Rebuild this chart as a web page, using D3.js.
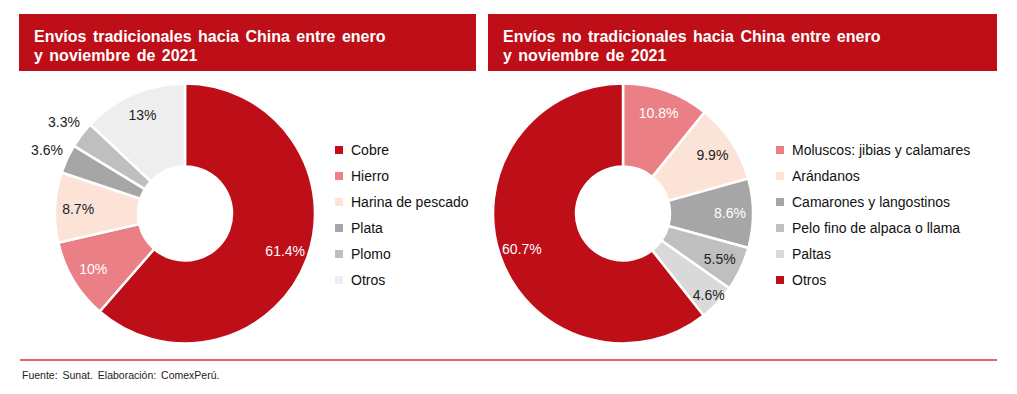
<!DOCTYPE html>
<html lang="es">
<head>
<meta charset="UTF-8">
<title>Envíos hacia China</title>
<style>
    body { margin: 0; background: #fff; font-family: "Liberation Sans", Arial, sans-serif; }
    svg text { font-family: "Liberation Sans", Arial, sans-serif; }
</style>
</head>
<body>
<svg id="chart" width="1017" height="394"></svg>
<script src="https://d3js.org/d3.v7.min.js"></script>
<script>
// Envíos tradicionales
const tradCategories = ["Cobre", "Hierro", "Harina de pescado", "Plata", "Plomo", "Otros"];
const tradValues = [61.4, 10, 8.7, 3.6, 3.3, 13];
const tradColors = ["#BE0E18", "#EA8085", "#FBE4D7", "#A6A6A6", "#BFBFBF", "#EFEEEF"];
const tradLabelColors = ["#fff", "#fff", "#222", "#222", "#222", "#222"];

// Envíos no tradicionales
const noTradCategories = ["Moluscos: jibias y calamares", "Arándanos", "Camarones y langostinos",
    "Pelo fino de alpaca o llama", "Paltas", "Otros"];
const noTradValues = [10.8, 9.9, 8.6, 5.5, 4.6, 60.7];
const noTradColors = ["#EA8085", "#FBE4D7", "#A6A6A6", "#BFBFBF", "#D9D9D9", "#BE0E18"];
const noTradLabelColors = ["#fff", "#222", "#fff", "#222", "#222", "#fff"];

const titles = [
    ["Envíos tradicionales hacia China entre enero", "y noviembre de 2021"],
    ["Envíos no tradicionales hacia China entre enero", "y noviembre de 2021"]
];

const svg = d3.select("#chart");

function drawPanel(opts) {
    const g = svg.append("g");

    // title bar
    g.append("rect")
        .attr("x", opts.barX).attr("y", 14)
        .attr("width", opts.barW).attr("height", 57)
        .attr("fill", "#BE0E18");
    opts.title.forEach((line, i) => {
        g.append("text")
            .attr("x", opts.barX + 15)
            .attr("y", 42 + i * 19)
            .attr("fill", "#fff")
            .attr("font-size", 16)
            .attr("font-weight", "bold")
            .attr("word-spacing", 2)
            .text(line);
    });

    const rOuter = 130, rInner = 47;
    const pie = d3.pie().sort(null).value(d => d.value);
    const arcs = pie(opts.cats.map((c, i) => ({ name: c, value: opts.values[i], i: i })));
    const arc = d3.arc().innerRadius(rInner).outerRadius(rOuter);

    const donut = g.append("g").attr("transform", `translate(${opts.cx},213.5)`);
    donut.selectAll("path")
        .data(arcs)
        .enter()
        .append("path")
        .attr("d", arc)
        .attr("fill", d => opts.colors[d.data.i])
        .attr("stroke", "#fff")
        .attr("stroke-width", 2.5);

    // labels: small slices pushed out
    donut.selectAll("text.lbl")
        .data(arcs)
        .enter()
        .append("text")
        .attr("class", "lbl")
        .attr("transform", d => {
            let r = 107;
            if (d.data.value < 4) r = 152;
            else if (d.data.value < 5) r = 118;
            const a = (d.startAngle + d.endAngle) / 2;
            return `translate(${Math.sin(a) * r},${-Math.cos(a) * r})`;
        })
        .attr("text-anchor", "middle")
        .attr("dy", "0.36em")
        .attr("font-size", 14)
        .attr("fill", d => d.data.value < 4 ? "#222" : opts.labelColors[d.data.i])
        .text(d => d.data.value + "%");

    // legend
    const y = d3.scaleBand().domain(opts.cats).range([137, 293]);
    const leg = g.append("g");
    leg.selectAll("rect")
        .data(opts.cats)
        .enter()
        .append("rect")
        .attr("x", opts.legX)
        .attr("y", d => y(d) + y.bandwidth() / 2 - 4)
        .attr("width", 8).attr("height", 8)
        .attr("fill", (d, i) => opts.colors[i]);
    leg.selectAll("text")
        .data(opts.cats)
        .enter()
        .append("text")
        .attr("x", opts.legX + 16)
        .attr("y", d => y(d) + y.bandwidth() / 2)
        .attr("dy", "0.36em")
        .attr("font-size", 14)
        .attr("fill", "#111")
        .text(d => d);
}

drawPanel({ barX: 19, barW: 457, title: titles[0], cx: 185, legX: 335,
    cats: tradCategories, values: tradValues, colors: tradColors, labelColors: tradLabelColors });
drawPanel({ barX: 488, barW: 509, title: titles[1], cx: 623, legX: 776,
    cats: noTradCategories, values: noTradValues, colors: noTradColors, labelColors: noTradLabelColors });

// bottom rule + source
svg.append("line")
    .attr("x1", 20).attr("x2", 997)
    .attr("y1", 360).attr("y2", 360)
    .attr("stroke", "#E0656E")
    .attr("stroke-width", 2);
svg.append("text")
    .attr("x", 22).attr("y", 379)
    .attr("font-size", 10.5)
    .attr("word-spacing", 2)
    .attr("fill", "#222")
    .text("Fuente: Sunat. Elaboración: ComexPerú.");
</script>
</body>
</html>
